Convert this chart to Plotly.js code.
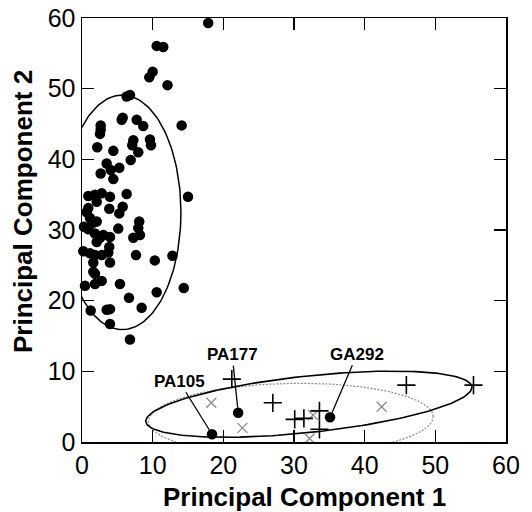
<!DOCTYPE html>
<html>
<head>
<meta charset="utf-8">
<script src="https://cdn.plot.ly/plotly-3.0.1.min.js"></script>
<style>html,body{margin:0;padding:0;background:#fff;}#chart{width:532px;height:512px;}</style>
</head>
<body>
<div id="chart"></div>
<script>
// Group A (filled circles)
const dotX = [17.86,10.57,11.50,10.0,9.52,12.1,6.32,6.79,14.1,2.64,2.64,2.55,5.76,5.62,7.74,8.67,2.16,4.43,7.26,7.11,9.62,9.76,7.96,6.89,3.49,4.06,5.28,2.64,4.43,0.89,1.84,2.79,3.96,6.32,15.0,2.08,0.89,3.86,5.76,5.28,1.13,2.08,0.28,0.89,1.84,3.01,3.96,5.13,8.1,7.96,7.26,8.2,2.08,2.55,0.18,1.13,1.84,3.86,3.72,2.79,7.64,10.3,12.8,3.96,1.6,1.6,1.84,0.42,1.84,2.79,5.37,14.4,10.57,6.65,1.23,3.49,3.96,8.44,3.96,6.79,0.66,1.5];
const dotY = [59.3,56.05,55.9,52.4,51.6,50.5,48.9,49.1,44.8,44.8,44.2,43.6,45.9,45.6,45.6,44.7,41.7,41.2,42.7,42.0,42.8,42.0,41.0,39.9,39.4,38.5,38.8,38.0,37.2,34.8,35.0,35.2,34.7,35.1,34.7,34.0,33.1,33.0,33.3,32.35,31.7,31.2,30.45,30.1,29.5,29.3,29.0,30.2,31.2,30.3,28.9,29.3,28.3,28.9,27.0,26.7,26.45,27.6,26.8,26.45,26.45,25.7,26.35,25.4,25.4,24.1,23.8,22.1,22.35,22.8,22.35,21.8,21.2,20.4,18.6,18.7,18.8,19.0,16.7,14.5,32.5,31.0];

// Labelled filled circles
const labX = [18.4, 22.1, 35.1];
const labY = [1.1, 4.15, 3.5];
const labText = ["PA105", "PA177", "GA292"];
const labAx = [-33, -6, 27];
const labAy = [-53, -58, -63];

// Black plus markers
const plusX = [21.2, 27.0, 30.1, 31.4, 33.6, 33.6, 45.9, 55.4];
const plusY = [8.9, 5.55, 3.2, 3.35, 4.4, 1.8, 8.05, 8.05];

// Grey cross markers
const crossX = [18.3, 22.7, 32.7, 32.2, 42.4];
const crossY = [5.55, 2.0, 3.8, 0.5, 5.0];

// Ellipses: [cx, cy, semi-axis a (along angle), semi-axis b, angle in degrees]
const ellipseA = [5.7, 32.5, 8.3, 16.6, 0];
const ellipseB = [32.1, 5.35, 23.2, 4.0, 6.1];
const ellipseC = [29.55, 3.25, 20.15, 5.05, 1.0];

const xTicks = [0, 10, 20, 30, 40, 50, 60];
const yTicks = [0, 10, 20, 30, 40, 50, 60];

function ellipsePts(e) {
  const [cx, cy, a, b, deg] = e;
  const th = deg * Math.PI / 180;
  const xs = [], ys = [];
  for (let i = 0; i <= 180; i++) {
    const t = 2 * Math.PI * i / 180;
    const u = a * Math.cos(t), v = b * Math.sin(t);
    xs.push(cx + u * Math.cos(th) - v * Math.sin(th));
    ys.push(cy + u * Math.sin(th) + v * Math.cos(th));
  }
  return {x: xs, y: ys};
}

const FONT = '"Liberation Sans", Arial, Helvetica, sans-serif';
const eA = ellipsePts(ellipseA), eB = ellipsePts(ellipseB), eC = ellipsePts(ellipseC);

const traces = [
  {x: eC.x, y: eC.y, mode: 'lines', line: {color: '#8c8c8c', width: 1.2, dash: '2px,1.5px'}, hoverinfo: 'skip'},
  {x: eA.x, y: eA.y, mode: 'lines', line: {color: '#000', width: 1.5}, hoverinfo: 'skip'},
  {x: eB.x, y: eB.y, mode: 'lines', line: {color: '#000', width: 1.6}, hoverinfo: 'skip'},
  {x: crossX, y: crossY, mode: 'markers', cliponaxis: false,
   marker: {symbol: 'x-thin-open', size: 10, color: '#8a8a8a', line: {color: '#8a8a8a', width: 1.3}}},
  {x: plusX, y: plusY, mode: 'markers', cliponaxis: false,
   marker: {symbol: 'cross-thin-open', size: 13, color: '#000', line: {color: '#000', width: 1.6}}},
  {x: dotX, y: dotY, mode: 'markers', cliponaxis: false,
   marker: {symbol: 'circle', size: 10.5, color: '#000'}},
  {x: labX, y: labY, mode: 'markers', cliponaxis: false,
   marker: {symbol: 'circle', size: 10.5, color: '#000'}}
];

const annotations = labText.map((t, i) => ({
  x: labX[i], y: labY[i], xref: 'x', yref: 'y', text: '<b>' + t + '</b>',
  showarrow: true, arrowhead: 0, arrowwidth: 1.3, arrowcolor: '#000', standoff: 5,
  ax: labAx[i], ay: labAy[i], font: {family: FONT, size: 17, color: '#000'}
}));
annotations.push({
  xref: 'paper', yref: 'paper', x: 0.5236, y: -0.1297, xanchor: 'center', yanchor: 'middle',
  text: '<b>Principal Component 1</b>', showarrow: false, font: {family: FONT, size: 26, color: '#000'}
});
annotations.push({
  xref: 'paper', yref: 'paper', x: -0.139, y: 0.5425, xanchor: 'center', yanchor: 'middle', textangle: -90,
  text: '<b>Principal Component 2</b>', showarrow: false, font: {family: FONT, size: 26, color: '#000'}
});

const axisCommon = {
  showgrid: false, zeroline: false, showline: true, linecolor: '#000', linewidth: 1.5,
  mirror: 'ticks', ticks: 'inside', ticklen: 12, tickwidth: 1.2, tickcolor: '#000',
  tickfont: {family: FONT, size: 25, color: '#000'}, fixedrange: true
};

const layout = {
  width: 532, height: 512,
  margin: {l: 82, r: 26, t: 18, b: 70},
  paper_bgcolor: '#fff', plot_bgcolor: '#fff',
  showlegend: false,
  xaxis: Object.assign({}, axisCommon, {range: [0, 60], tickvals: xTicks, ticktext: xTicks.map(String)}),
  yaxis: Object.assign({}, axisCommon, {range: [0, 60], tickvals: yTicks, ticktext: yTicks.map(String)}),
  annotations: annotations
};

Plotly.newPlot('chart', traces, layout, {staticPlot: true, displayModeBar: false});
</script>
</body>
</html>
